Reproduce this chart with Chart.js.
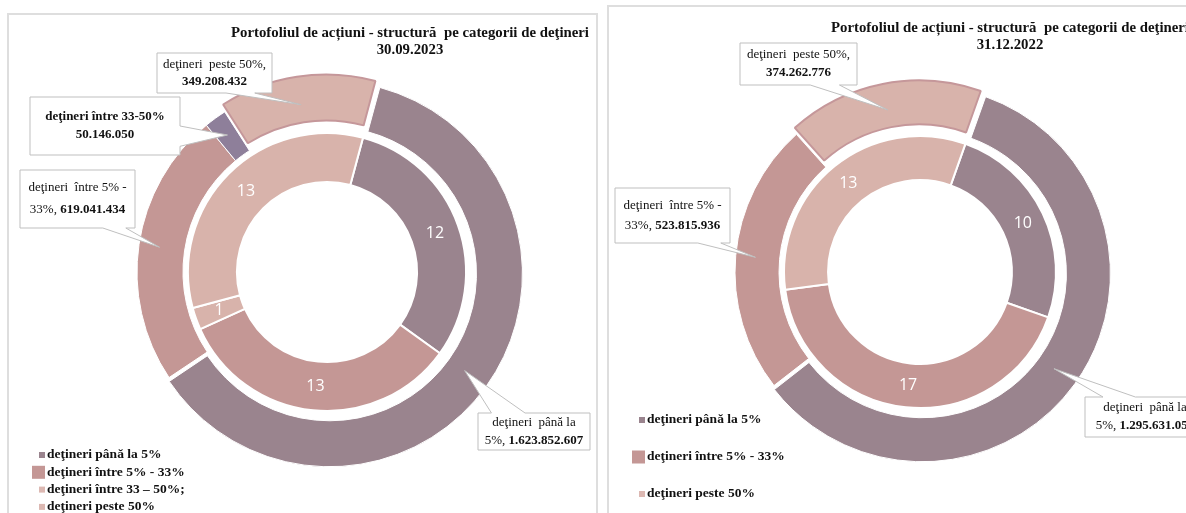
<!DOCTYPE html>
<html>
<head>
<meta charset="utf-8">
<script src="https://cdn.jsdelivr.net/npm/chart.js@4.4.0/dist/chart.umd.min.js"></script>
<style>
  html, body { margin: 0; padding: 0; background: #fff; width: 1186px; height: 513px; overflow: hidden; position: relative; }
  .panel { position: absolute; border: 2px solid #dedede; background: #fff; }
  #p1 { left: 7px; top: 13px; width: 587px; height: 540px; }
  #p2 { left: 607px; top: 5px; width: 700px; height: 560px; }
  canvas { position: absolute; top: 0; }
  #c1 { left: 0; }
  #c2 { left: 600px; }
</style>
</head>
<body>
<div class="panel" id="p1"></div>
<div class="panel" id="p2"></div>
<canvas id="c1" width="600" height="513"></canvas>
<canvas id="c2" width="700" height="513"></canvas>
<script>
// 30.09.2023
const categorii2023 = ["deţineri până la 5%", "deţineri între 5% - 33%", "deţineri între 33 – 50%;", "deţineri peste 50%"];
const valori2023 = [1623852607, 619041434, 50146050, 349208432];
const numar2023 = [12, 13, 1, 13];

// 31.12.2022
const categorii2022 = ["deţineri până la 5%", "deţineri între 5% - 33%", "deţineri peste 50%"];
const valori2022 = [1295631050, 523815936, 374262776];
const numar2022 = [10, 17, 13];

const C_PANA = "#9a848e";
const C_5_33 = "#c49795";
const C_33_50 = "#8e7f9a";
const C_PESTE = "#d8b3ab";
const C_PESTE_LEG = "#dcb8b2";

const SERIF = '"Liberation Serif", "Times New Roman", serif';

function fmt(v) {
  return String(v).replace(/\B(?=(\d{3})+(?!\d))/g, ".");
}

// cutie cu sageata catre felia exterioara
function drawCallout(ctx, chart, c) {
  const arc = chart.getDatasetMeta(0).data[c.index];
  const p = arc.getProps(["x", "y", "startAngle", "endAngle", "innerRadius", "outerRadius"], true);
  const ang = p.startAngle + (p.endAngle - p.startAngle) * 0.5;
  const r = p.innerRadius + (p.outerRadius - p.innerRadius) * 0.55;
  const tx = p.x + Math.cos(ang) * r;
  const ty = p.y + Math.sin(ang) * r;
  const {x, y, w, h} = c.box;
  const [a1, a2] = c.base;

  ctx.save();
  ctx.beginPath();
  if (c.edge === "top") {
    ctx.moveTo(x, y); ctx.lineTo(x + w * a1, y); ctx.lineTo(tx, ty); ctx.lineTo(x + w * a2, y);
    ctx.lineTo(x + w, y); ctx.lineTo(x + w, y + h); ctx.lineTo(x, y + h);
  } else if (c.edge === "bottom") {
    ctx.moveTo(x, y); ctx.lineTo(x + w, y); ctx.lineTo(x + w, y + h); ctx.lineTo(x + w * a2, y + h);
    ctx.lineTo(tx, ty); ctx.lineTo(x + w * a1, y + h); ctx.lineTo(x, y + h);
  } else {
    ctx.moveTo(x, y); ctx.lineTo(x + w, y); ctx.lineTo(x + w, y + h * a1); ctx.lineTo(tx, ty);
    ctx.lineTo(x + w, y + h * a2); ctx.lineTo(x + w, y + h); ctx.lineTo(x, y + h);
  }
  ctx.closePath();
  ctx.fillStyle = "#fff";
  ctx.fill();
  ctx.strokeStyle = "#bfbfbf";
  ctx.lineWidth = 1;
  ctx.stroke();

  ctx.fillStyle = "#111";
  ctx.textBaseline = "middle";
  const cx = x + w / 2;
  const cy = y + h / 2;
  c.lines.forEach((runs, li) => {
    const ly = cy + (li - (c.lines.length - 1) / 2) * c.lh;
    let total = 0;
    runs.forEach(([t, b]) => { ctx.font = (b ? "bold " : "") + "13px " + SERIF; total += ctx.measureText(t).width; });
    let lx = cx - total / 2;
    ctx.textAlign = "left";
    runs.forEach(([t, b]) => {
      ctx.font = (b ? "bold " : "") + "13px " + SERIF;
      ctx.fillText(t, lx, ly);
      lx += ctx.measureText(t).width;
    });
  });
  ctx.restore();
}

function panelPlugin(cfg) {
  return {
    id: "panelDecor",
    afterDatasetsDraw(chart) {
      const ctx = chart.ctx;
      ctx.save();

      // etichete inel interior
      const innerIdx = 2;
      const ds = chart.data.datasets[innerIdx];
      ctx.font = '16px "Open Sans", sans-serif';
      ctx.fillStyle = "#fff";
      ctx.textAlign = "center";
      ctx.textBaseline = "middle";
      chart.getDatasetMeta(innerIdx).data.forEach((arc, i) => {
        const pos = arc.tooltipPosition();
        ctx.fillText(String(ds.data[i]), pos.x, pos.y);
      });

      // titlu
      ctx.fillStyle = "#111";
      ctx.font = "bold 14.8px " + SERIF;
      cfg.title.lines.forEach((t, i) => ctx.fillText(t, cfg.title.x, cfg.title.y + i * 17));

      // legenda
      ctx.textAlign = "left";
      ctx.font = "bold 13.5px " + SERIF;
      cfg.legend.labels.forEach((lab, i) => {
        const ly = cfg.legend.y + i * cfg.legend.step;
        const s = cfg.legend.sizes[i];
        ctx.fillStyle = cfg.legend.colors[i];
        ctx.fillRect(cfg.legend.x - s, ly - s / 2, s, s);
        ctx.fillStyle = "#111";
        ctx.fillText(lab, cfg.legend.x + 2, ly);
      });
      ctx.restore();

      cfg.callouts.forEach(c => drawCallout(ctx, chart, c));
    }
  };
}

function makeChart(id, vals, counts, outerColors, innerColors, outerOffsets, opts, cfg) {
  return new Chart(document.getElementById(id), {
    type: "doughnut",
    data: {
      labels: cfg.legend.labels,
      datasets: [
        {
          data: vals,
          backgroundColor: outerColors,
          borderColor: outerColors.map(c => c === C_PESTE ? "#c5979a" : "#fff"),
          borderWidth: outerColors.map(c => c === C_PESTE ? 2 : 1),
          offset: outerOffsets,
          weight: opts.wOuter
        },
        {
          data: [1],
          backgroundColor: "rgba(0,0,0,0)",
          borderWidth: 0,
          weight: opts.wGap
        },
        {
          data: counts,
          backgroundColor: innerColors,
          borderColor: "#fff",
          borderWidth: 2,
          weight: opts.wInner
        }
      ]
    },
    options: {
      responsive: false,
      animation: false,
      radius: opts.radius,
      cutout: opts.cutout,
      rotation: opts.rotation,
      layout: { padding: opts.padding },
      plugins: {
        legend: { display: false },
        tooltip: { enabled: false },
        title: { display: false }
      }
    },
    plugins: [panelPlugin(cfg)]
  });
}

makeChart("c1", valori2023, numar2023,
  [C_PANA, C_5_33, C_33_50, C_PESTE],
  [C_PANA, C_5_33, C_PESTE, C_PESTE],
  [12, 0, 0, 24],
  { radius: 190, cutout: "47.4%", rotation: 15, wOuter: 46, wGap: 5, wInner: 49,
    padding: { left: 127, right: 73, top: 82, bottom: 51 } },
  {
    title: { x: 410, y: 33, lines: ["Portofoliul de acțiuni - structură  pe categorii de deţineri", "30.09.2023"] },
    legend: { x: 45, y: 455, step: 17.3, labels: categorii2023,
      colors: [C_PANA, C_5_33, C_PESTE_LEG, C_PESTE_LEG], sizes: [6, 13, 6, 6] },
    callouts: [
      { index: 3, box: { x: 157, y: 53, w: 115, h: 40 }, edge: "bottom", base: [0.6, 0.85], lh: 17,
        lines: [[["deţineri  peste 50%,", false]], [[fmt(valori2023[3]), true]]] },
      { index: 2, box: { x: 30, y: 97, w: 150, h: 58 }, edge: "right", base: [0.5, 0.85], lh: 18,
        lines: [[["deţineri între 33-50%", true]], [[fmt(valori2023[2]), true]]] },
      { index: 1, box: { x: 20, y: 170, w: 115, h: 58 }, edge: "bottom", base: [0.72, 0.92], lh: 22,
        lines: [[["deţineri  între 5% -", false]], [["33%, ", false], [fmt(valori2023[1]), true]]] },
      { index: 0, box: { x: 478, y: 413, w: 112, h: 37 }, edge: "top", base: [0.12, 0.42], lh: 18,
        lines: [[["deţineri  până la", false]], [["5%, ", false], [fmt(valori2023[0]), true]]] }
    ]
  });

makeChart("c2", valori2022, numar2022,
  [C_PANA, C_5_33, C_PESTE],
  [C_PANA, C_5_33, C_PESTE],
  [12, 0, 24],
  { radius: 185, cutout: "49.7%", rotation: 19.5, wOuter: 44, wGap: 5, wInner: 44,
    padding: { left: 120, right: 180, top: 82, bottom: 51 } },
  {
    title: { x: 410, y: 28, lines: ["Portofoliul de acțiuni - structură  pe categorii de deţineri", "31.12.2022"] },
    legend: { x: 45, y: 420, step: 37, labels: categorii2022,
      colors: [C_PANA, C_5_33, C_PESTE_LEG], sizes: [6, 13, 6] },
    callouts: [
      { index: 2, box: { x: 140, y: 43, w: 117, h: 42 }, edge: "bottom", base: [0.6, 0.85], lh: 18,
        lines: [[["deţineri  peste 50%,", false]], [[fmt(valori2022[2]), true]]] },
      { index: 1, box: { x: 15, y: 188, w: 115, h: 55 }, edge: "bottom", base: [0.72, 0.92], lh: 20,
        lines: [[["deţineri  între 5% -", false]], [["33%, ", false], [fmt(valori2022[1]), true]]] },
      { index: 0, box: { x: 485, y: 397, w: 120, h: 40 }, edge: "top", base: [0.15, 0.42], lh: 18,
        lines: [[["deţineri  până la", false]], [["5%, ", false], [fmt(valori2022[0]), true]]] }
    ]
  });
</script>
</body>
</html>
